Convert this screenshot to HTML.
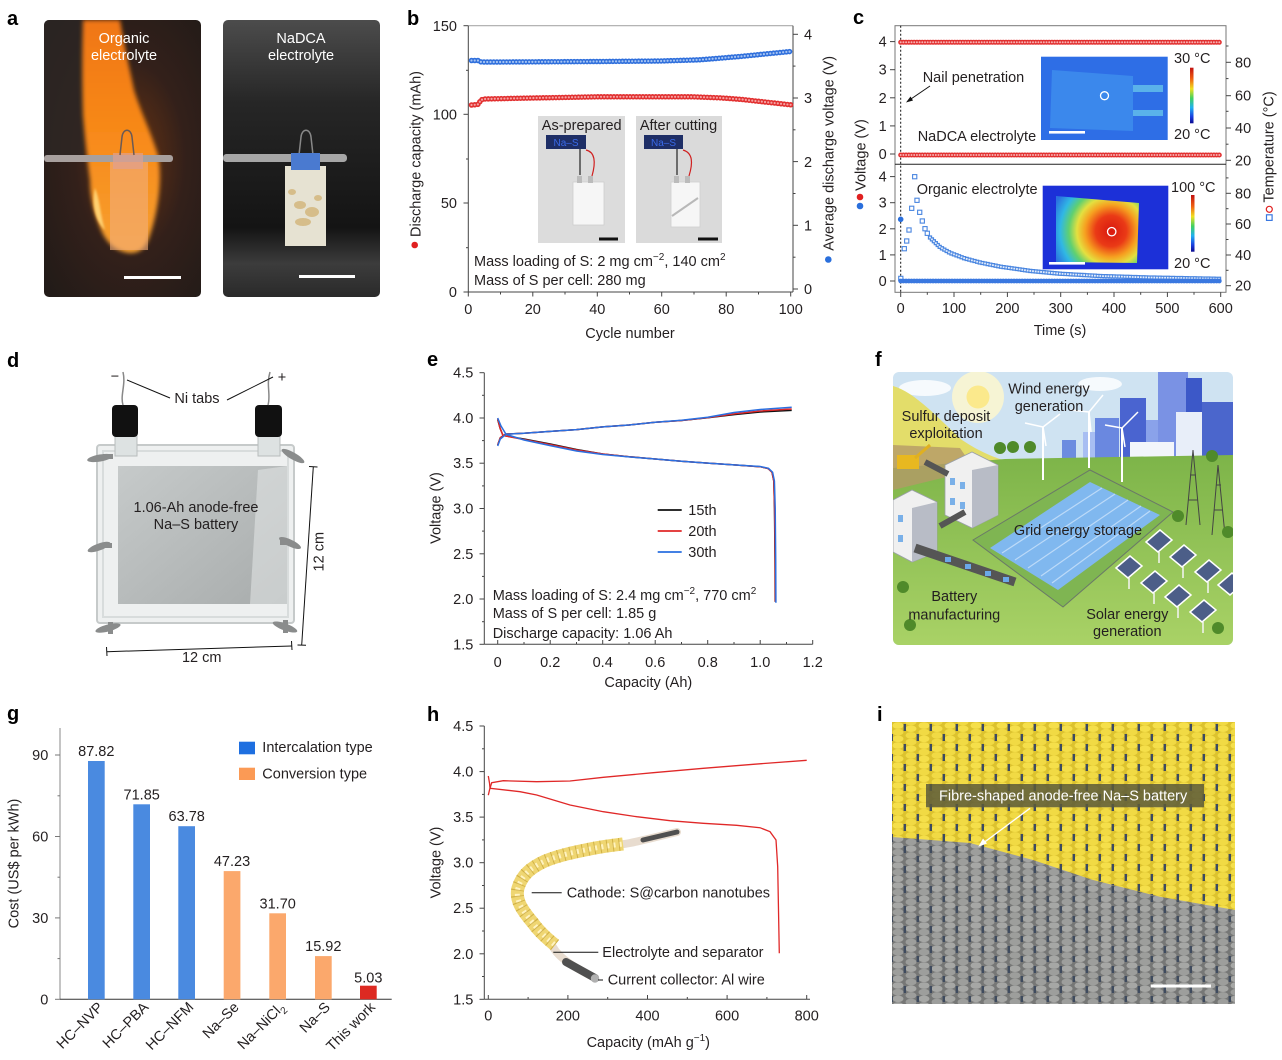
<!DOCTYPE html>
<html><head><meta charset="utf-8">
<style>
html,body{margin:0;padding:0;background:#fff;}
svg{display:block;font-family:"Liberation Sans",Arial,sans-serif;}
text{fill:#231f20;font-size:14.5px;}
.lbl{font-size:20px;font-weight:bold;fill:#000;}
.ax{stroke:#444;stroke-width:1;fill:none;}
.tk{stroke:#444;stroke-width:1;}
</style></head><body>
<svg width="1282" height="1060" viewBox="0 0 1282 1060" xmlns="http://www.w3.org/2000/svg">
<defs>
<radialGradient id="glowL" cx="0.55" cy="0.5" r="0.7">
 <stop offset="0" stop-color="#6a3412"/><stop offset="0.5" stop-color="#33201a"/><stop offset="1" stop-color="#221b18"/>
</radialGradient>
<linearGradient id="flameG" x1="0" y1="0" x2="0" y2="1">
 <stop offset="0" stop-color="#f07612"/><stop offset="0.5" stop-color="#f88a1a"/><stop offset="1" stop-color="#f7a030"/>
</linearGradient>
<linearGradient id="bgR" x1="0" y1="0" x2="0" y2="1">
 <stop offset="0" stop-color="#4c4c4c"/><stop offset="0.3" stop-color="#262626"/><stop offset="0.75" stop-color="#141414"/><stop offset="0.88" stop-color="#3c3c3c"/><stop offset="1" stop-color="#2a2a2a"/>
</linearGradient>
<filter id="blur2"><feGaussianBlur stdDeviation="2"/></filter>
<filter id="blur1"><feGaussianBlur stdDeviation="1"/></filter>
<linearGradient id="cbar" x1="0" y1="0" x2="0" y2="1">
 <stop offset="0" stop-color="#c01010"/><stop offset="0.2" stop-color="#f06010"/><stop offset="0.38" stop-color="#f0e020"/><stop offset="0.55" stop-color="#40d060"/><stop offset="0.72" stop-color="#20b0f0"/><stop offset="0.88" stop-color="#1a40e0"/><stop offset="1" stop-color="#0a0a90"/>
</linearGradient>
<radialGradient id="hot" gradientUnits="userSpaceOnUse" cx="1111" cy="231" r="62">
 <stop offset="0" stop-color="#d81810"/><stop offset="0.25" stop-color="#ea3a16"/><stop offset="0.42" stop-color="#f6a020"/><stop offset="0.55" stop-color="#e4e040"/><stop offset="0.68" stop-color="#60d070"/><stop offset="0.82" stop-color="#30b8e4"/><stop offset="1" stop-color="#2a70e0"/>
</radialGradient>
<linearGradient id="sheetG" x1="0" y1="0" x2="1" y2="1">
 <stop offset="0" stop-color="#c6caca"/><stop offset="1" stop-color="#a8acac"/>
</linearGradient>
<linearGradient id="grnG" x1="0" y1="0" x2="0" y2="1">
 <stop offset="0" stop-color="#7db449"/><stop offset="1" stop-color="#a9d266"/>
</linearGradient>
<pattern id="knitY" x="892" y="722" width="26" height="20" patternUnits="userSpaceOnUse">
 <rect width="26" height="20" fill="#dcc22e"/>
 <ellipse cx="6" cy="3.5" rx="5.5" ry="3.3" fill="#f5df4a"/>
 <ellipse cx="6" cy="10.2" rx="5.5" ry="3.3" fill="#f1da44"/>
 <ellipse cx="6" cy="16.8" rx="5.5" ry="3.3" fill="#f5df4a"/>
 <ellipse cx="19" cy="0" rx="5.5" ry="3.3" fill="#f1da44"/>
 <ellipse cx="19" cy="6.7" rx="5.5" ry="3.3" fill="#f5df4a"/>
 <ellipse cx="19" cy="13.4" rx="5.5" ry="3.3" fill="#f1da44"/>
 <ellipse cx="19" cy="20" rx="5.5" ry="3.3" fill="#f1da44"/>
 <rect x="11.6" y="2" width="2.4" height="7" fill="#3c4a62"/>
 <rect x="24.6" y="12" width="2.4" height="7" fill="#3c4a62"/>
 <rect x="-1.4" y="12" width="2.4" height="7" fill="#3c4a62"/>
</pattern>
<pattern id="knitG" x="892" y="722" width="26" height="20" patternUnits="userSpaceOnUse">
 <rect width="26" height="20" fill="#767776"/>
 <ellipse cx="6" cy="3.5" rx="5.5" ry="3.3" fill="#a6a7a5"/>
 <ellipse cx="6" cy="10.2" rx="5.5" ry="3.3" fill="#9d9e9c"/>
 <ellipse cx="6" cy="16.8" rx="5.5" ry="3.3" fill="#a6a7a5"/>
 <ellipse cx="19" cy="0" rx="5.5" ry="3.3" fill="#9d9e9c"/>
 <ellipse cx="19" cy="6.7" rx="5.5" ry="3.3" fill="#a6a7a5"/>
 <ellipse cx="19" cy="13.4" rx="5.5" ry="3.3" fill="#9d9e9c"/>
 <ellipse cx="19" cy="20" rx="5.5" ry="3.3" fill="#9d9e9c"/>
 <rect x="11.6" y="4" width="2.4" height="7" fill="#3f4b5e"/>
 <rect x="24.6" y="14" width="2.4" height="6" fill="#3f4b5e"/>
 <rect x="-1.4" y="14" width="2.4" height="6" fill="#3f4b5e"/>
</pattern>
<clipPath id="clipF"><rect x="893" y="372" width="340" height="273" rx="6"/></clipPath>
<clipPath id="clipI"><rect x="892" y="722" width="343" height="282"/></clipPath>
<clipPath id="clipA1"><rect x="44" y="20" width="157" height="277" rx="5"/></clipPath>
</defs>

<!-- ================= a ================= -->
<text class="lbl" x="7" y="25">a</text>
<g clip-path="url(#clipA1)">
 <rect x="44" y="20" width="157" height="277" fill="url(#glowL)"/>
 <rect x="44" y="20" width="40" height="140" fill="#2e2826" opacity="0.7"/>
 <path d="M83 20 L120 20 C124 45 130 70 134 90 C140 110 150 130 158 155 C163 180 157 215 150 235 C146 248 140 253 130 253 C118 252 108 245 102 232 C95 215 90 200 90 180 C88 165 85 140 83 115 C82 85 82 50 83 20 Z" fill="url(#flameG)" filter="url(#blur2)"/>
 <path d="M95 188 C91 205 96 222 105 230 C100 214 100 200 95 188 Z" fill="#ffd070" filter="url(#blur1)"/>
 <rect x="110" y="162" width="38" height="88" fill="#f2ad7a" opacity="0.6"/>
 <rect x="44" y="155" width="129" height="7" rx="3" fill="#a8a09e"/>
 <rect x="113" y="153" width="30" height="16" fill="#e0a090" opacity="0.7"/>
 <path d="M120 155 L122 137 C123 128 131 128 132 137 L134 155" stroke="#6a5a56" stroke-width="1.5" fill="none"/>
 <rect x="124" y="276" width="57" height="3" fill="#fff"/>
</g>
<text x="124" y="43" text-anchor="middle" style="fill:#fff">Organic</text>
<text x="124" y="60" text-anchor="middle" style="fill:#fff">electrolyte</text>

<rect x="223" y="20" width="157" height="277" rx="5" fill="url(#bgR)"/>
<rect x="223" y="154" width="124" height="8" rx="3.5" fill="#a6a6a6"/>
<path d="M299 155 L301 137 C302 128 310 128 311 137 L313 155" stroke="#888" stroke-width="1.5" fill="none"/>
<rect x="285" y="166" width="41" height="80" fill="#e6e2d2"/>
<g fill="#c9a050" opacity="0.55">
 <ellipse cx="300" cy="205" rx="6" ry="4"/><ellipse cx="312" cy="212" rx="7" ry="5"/><ellipse cx="303" cy="222" rx="8" ry="4"/><ellipse cx="292" cy="192" rx="4" ry="3"/><ellipse cx="318" cy="198" rx="4" ry="3"/>
</g>
<rect x="291" y="153" width="29" height="17" fill="#4a7ad0"/>
<rect x="299" y="275" width="56" height="3" fill="#fff"/>
<text x="301" y="43" text-anchor="middle" style="fill:#fff">NaDCA</text>
<text x="301" y="60" text-anchor="middle" style="fill:#fff">electrolyte</text>

<!-- ================= b ================= -->
<text class="lbl" x="407" y="25">b</text>
<line x1="468.3" y1="25.7" x2="793" y2="25.7" stroke="#aaa" stroke-width="1.2"/>
<line class="ax" x1="468.3" y1="25.7" x2="468.3" y2="292"/>
<line class="ax" x1="793" y1="25.7" x2="793" y2="292"/>
<line class="ax" x1="468.3" y1="292" x2="793" y2="292"/>
<g class="tk">
 <line x1="463.5" y1="25.7" x2="468.3" y2="25.7"/><line x1="463.5" y1="114.3" x2="468.3" y2="114.3"/><line x1="463.5" y1="203" x2="468.3" y2="203"/><line x1="463.5" y1="292" x2="468.3" y2="292"/>
 <line x1="466" y1="70.3" x2="468.3" y2="70.3"/><line x1="466" y1="159" x2="468.3" y2="159"/><line x1="466" y1="247.7" x2="468.3" y2="247.7"/>
 <line x1="793" y1="34.3" x2="798" y2="34.3"/><line x1="793" y1="98" x2="798" y2="98"/><line x1="793" y1="161.6" x2="798" y2="161.6"/><line x1="793" y1="225.3" x2="798" y2="225.3"/><line x1="793" y1="289" x2="798" y2="289"/>
 <line x1="793" y1="66.1" x2="795.5" y2="66.1"/><line x1="793" y1="129.8" x2="795.5" y2="129.8"/><line x1="793" y1="193.5" x2="795.5" y2="193.5"/><line x1="793" y1="257.2" x2="795.5" y2="257.2"/>
 <line x1="468.3" y1="292" x2="468.3" y2="296.5"/><line x1="532.8" y1="292" x2="532.8" y2="296.5"/><line x1="597.3" y1="292" x2="597.3" y2="296.5"/><line x1="661.7" y1="292" x2="661.7" y2="296.5"/><line x1="726.2" y1="292" x2="726.2" y2="296.5"/><line x1="790.7" y1="292" x2="790.7" y2="296.5"/>
 <line x1="500.5" y1="292" x2="500.5" y2="294.5"/><line x1="565" y1="292" x2="565" y2="294.5"/><line x1="629.5" y1="292" x2="629.5" y2="294.5"/><line x1="694" y1="292" x2="694" y2="294.5"/><line x1="758.5" y1="292" x2="758.5" y2="294.5"/>
</g>
<g text-anchor="end"><text x="457" y="31">150</text><text x="457" y="119.5">100</text><text x="457" y="208">50</text><text x="457" y="297">0</text></g>
<g><text x="804" y="39.5">4</text><text x="804" y="103">3</text><text x="804" y="167">2</text><text x="804" y="230.5">1</text><text x="804" y="294">0</text></g>
<g text-anchor="middle"><text x="468.3" y="314">0</text><text x="532.8" y="314">20</text><text x="597.3" y="314">40</text><text x="661.7" y="314">60</text><text x="726.2" y="314">80</text><text x="790.7" y="314">100</text></g>
<text x="630" y="338" text-anchor="middle">Cycle number</text>
<text transform="translate(420.4,154) rotate(-90)" text-anchor="middle">Discharge capacity (mAh)</text>
<circle cx="414.7" cy="245" r="3.3" fill="#e02020"/>
<text transform="translate(833.7,153.3) rotate(-90)" text-anchor="middle">Average discharge voltage (V)</text>
<circle cx="828.3" cy="259.5" r="3.3" fill="#2a6fdc"/>
<path d="M471.5 105 L474.7 104.8 L478 104.3 L481.2 99.8 L484.4 99 L516.7 98.3 L597.3 96.8 L694 96.8 L719.8 97.8 L742.3 99.5 L765 102 L790.7 104.8" fill="none" stroke="#e23030" stroke-width="5.5" stroke-linecap="round" stroke-dasharray="0 3.22"/>
<path d="M471.5 105 L474.7 104.8 L478 104.3 L481.2 99.8 L484.4 99 L516.7 98.3 L597.3 96.8 L694 96.8 L719.8 97.8 L742.3 99.5 L765 102 L790.7 104.8" fill="none" stroke="#f4a4a4" stroke-width="2.2" stroke-linecap="round" stroke-dasharray="0 3.22"/>
<path d="M471.5 60.5 L478 60.5 L481.2 62 L500 62 L600 61.5 L660 61 L700 59.8 L740 56.5 L765 54 L790.7 51.5" fill="none" stroke="#2f6fdc" stroke-width="5.5" stroke-linecap="round" stroke-dasharray="0 3.22"/>
<path d="M471.5 60.5 L478 60.5 L481.2 62 L500 62 L600 61.5 L660 61 L700 59.8 L740 56.5 L765 54 L790.7 51.5" fill="none" stroke="#a6c4f2" stroke-width="2.2" stroke-linecap="round" stroke-dasharray="0 3.22"/>
<rect x="538" y="116" width="87" height="127" fill="#dcdcdc"/>
<rect x="636" y="116" width="86" height="127" fill="#dadada"/>
<text x="581.7" y="130" text-anchor="middle">As-prepared</text>
<text x="678.5" y="130" text-anchor="middle">After cutting</text>
<rect x="546" y="135" width="40" height="14" fill="#1e2e66"/>
<text x="566" y="146" text-anchor="middle" style="font-size:10px;fill:#3a6ae8">Na–S</text>
<rect x="644" y="135" width="39" height="14" fill="#1e2e66"/>
<text x="663.5" y="146" text-anchor="middle" style="font-size:10px;fill:#3a6ae8">Na–S</text>
<path d="M580 149 L580 175" stroke="#222" stroke-width="1.2" fill="none"/>
<path d="M586 150 C595 152 596 162 592 176" stroke="#d02020" stroke-width="1.2" fill="none"/>
<path d="M677 149 L677 175" stroke="#222" stroke-width="1.2" fill="none"/>
<path d="M683 150 C693 153 693 163 689 176" stroke="#d02020" stroke-width="1.2" fill="none"/>
<rect x="573" y="182" width="31" height="43" fill="#f6f6f6" stroke="#cfcfcf" stroke-width="0.8"/>
<rect x="577" y="176" width="5" height="7" fill="#bbb"/><rect x="588" y="176" width="5" height="7" fill="#bbb"/>
<rect x="671" y="182" width="29" height="45" fill="#f6f6f6" stroke="#cfcfcf" stroke-width="0.8"/>
<rect x="674" y="176" width="5" height="7" fill="#bbb"/><rect x="685" y="176" width="5" height="7" fill="#bbb"/>
<line x1="672" y1="216" x2="698" y2="198" stroke="#b8b8b8" stroke-width="2"/>
<rect x="599" y="237.5" width="19" height="3" fill="#111"/>
<rect x="698" y="237.5" width="20" height="3" fill="#111"/>
<text x="474" y="266">Mass loading of S: 2 mg cm<tspan dy="-6" style="font-size:10px">−2</tspan><tspan dy="6">, 140 cm</tspan><tspan dy="-6" style="font-size:10px">2</tspan></text>
<text x="474" y="285">Mass of S per cell: 280 mg</text>

<!-- ================= c ================= -->
<text class="lbl" x="853" y="24">c</text>
<rect x="895" y="25.7" width="331" height="266.6" fill="none" stroke="#777" stroke-width="1"/>
<line x1="895" y1="164.3" x2="1226" y2="164.3" stroke="#222" stroke-width="1"/>
<line x1="900.7" y1="25.7" x2="900.7" y2="292.3" stroke="#111" stroke-width="1" stroke-dasharray="2 2"/>
<g class="tk">
 <line x1="890" y1="41.6" x2="895" y2="41.6"/><line x1="890" y1="69.7" x2="895" y2="69.7"/><line x1="890" y1="97.8" x2="895" y2="97.8"/><line x1="890" y1="125.9" x2="895" y2="125.9"/><line x1="890" y1="154" x2="895" y2="154"/>
 <line x1="890" y1="176.6" x2="895" y2="176.6"/><line x1="890" y1="202.7" x2="895" y2="202.7"/><line x1="890" y1="228.8" x2="895" y2="228.8"/><line x1="890" y1="254.9" x2="895" y2="254.9"/><line x1="890" y1="281" x2="895" y2="281"/>
 <line x1="1226" y1="62.3" x2="1231" y2="62.3"/><line x1="1226" y1="95.7" x2="1231" y2="95.7"/><line x1="1226" y1="128" x2="1231" y2="128"/><line x1="1226" y1="160.3" x2="1231" y2="160.3"/>
 <line x1="1226" y1="46" x2="1228.5" y2="46"/><line x1="1226" y1="78.6" x2="1228.5" y2="78.6"/><line x1="1226" y1="111.3" x2="1228.5" y2="111.3"/><line x1="1226" y1="144.2" x2="1228.5" y2="144.2"/>
 <line x1="1226" y1="193.3" x2="1231" y2="193.3"/><line x1="1226" y1="224" x2="1231" y2="224"/><line x1="1226" y1="255" x2="1231" y2="255"/><line x1="1226" y1="285.7" x2="1231" y2="285.7"/>
 <line x1="1226" y1="177.9" x2="1228.5" y2="177.9"/><line x1="1226" y1="208.7" x2="1228.5" y2="208.7"/><line x1="1226" y1="239.5" x2="1228.5" y2="239.5"/><line x1="1226" y1="270.3" x2="1228.5" y2="270.3"/>
 <line x1="900.7" y1="292.3" x2="900.7" y2="297"/><line x1="954" y1="292.3" x2="954" y2="297"/><line x1="1007.4" y1="292.3" x2="1007.4" y2="297"/><line x1="1060.7" y1="292.3" x2="1060.7" y2="297"/><line x1="1114" y1="292.3" x2="1114" y2="297"/><line x1="1167.4" y1="292.3" x2="1167.4" y2="297"/><line x1="1220.7" y1="292.3" x2="1220.7" y2="297"/>
 <line x1="927.3" y1="292.3" x2="927.3" y2="294.8"/><line x1="980.7" y1="292.3" x2="980.7" y2="294.8"/><line x1="1034" y1="292.3" x2="1034" y2="294.8"/><line x1="1087.4" y1="292.3" x2="1087.4" y2="294.8"/><line x1="1140.7" y1="292.3" x2="1140.7" y2="294.8"/><line x1="1194" y1="292.3" x2="1194" y2="294.8"/>
</g>
<g text-anchor="end"><text x="886.7" y="46.6">4</text><text x="886.7" y="74.7">3</text><text x="886.7" y="102.8">2</text><text x="886.7" y="130.9">1</text><text x="886.7" y="159">0</text>
<text x="886.7" y="181.6">4</text><text x="886.7" y="207.7">3</text><text x="886.7" y="233.8">2</text><text x="886.7" y="259.9">1</text><text x="886.7" y="286">0</text></g>
<g><text x="1235" y="67.3">80</text><text x="1235" y="100.7">60</text><text x="1235" y="133">40</text><text x="1235" y="165.3">20</text>
<text x="1235" y="198.3">80</text><text x="1235" y="229">60</text><text x="1235" y="260">40</text><text x="1235" y="290.7">20</text></g>
<g text-anchor="middle"><text x="900.7" y="313">0</text><text x="954" y="313">100</text><text x="1007.4" y="313">200</text><text x="1060.7" y="313">300</text><text x="1114" y="313">400</text><text x="1167.4" y="313">500</text><text x="1220.7" y="313">600</text></g>
<text x="1060" y="335" text-anchor="middle">Time (s)</text>
<text transform="translate(865.4,155) rotate(-90)" text-anchor="middle">Voltage (V)</text>
<circle cx="860" cy="197" r="3.3" fill="#e02020"/><circle cx="860" cy="206" r="3.3" fill="#2a6fdc"/>
<text transform="translate(1273.4,147) rotate(-90)" text-anchor="middle">Temperature (°C)</text>
<circle cx="1269.3" cy="209.3" r="3" fill="none" stroke="#e02020" stroke-width="1.2"/>
<rect x="1266.5" y="214.8" width="5.6" height="5.6" fill="none" stroke="#3a78e0" stroke-width="1.2"/>
<rect x="1041" y="56.7" width="126.7" height="83.3" fill="#2e6ee6"/>
<polygon points="1052,70 1133,76 1133,131 1050,128" fill="#3b88ec"/>
<rect x="1133" y="85" width="30" height="7" fill="#5ab2ea"/><rect x="1133" y="110" width="30" height="6" fill="#5ab2ea"/>
<circle cx="1104.5" cy="95.7" r="4" fill="none" stroke="#fff" stroke-width="1.3"/>
<rect x="1049" y="131" width="36" height="2.6" fill="#fff"/>
<rect x="1190" y="67.7" width="3.5" height="55.6" fill="url(#cbar)"/>
<text x="1174" y="63">30 °C</text><text x="1174" y="139">20 °C</text>
<rect x="1042.7" y="185.7" width="125.6" height="83.6" fill="#1c30d8"/>
<polygon points="1056,196 1139,203 1137,263 1056,262" fill="url(#hot)"/>
<circle cx="1111.7" cy="231.7" r="4.2" fill="none" stroke="#fff" stroke-width="1.3"/>
<rect x="1049" y="262" width="36" height="2.6" fill="#fff"/>
<rect x="1191" y="195" width="3.5" height="56.7" fill="url(#cbar)"/>
<text x="1171" y="192">100 °C</text><text x="1174" y="268">20 °C</text>
<path d="M900.7 42.3 L1220.7 42.3" stroke="#e23030" stroke-width="5" stroke-linecap="round" stroke-dasharray="0 2.7"/>
<path d="M900.7 42.3 L1220.7 42.3" stroke="#f6b0b0" stroke-width="2" stroke-linecap="round" stroke-dasharray="0 2.7"/>
<path d="M900.7 155 L1220.7 155" stroke="#e23030" stroke-width="5" stroke-linecap="round" stroke-dasharray="0 2.7"/>
<path d="M900.7 155 L1220.7 155" stroke="#f6b0b0" stroke-width="2" stroke-linecap="round" stroke-dasharray="0 2.7"/>
<path d="M930 237.5 L940 247.2 L950 252.9 L965 258.5 L980 262.5 L1000 266.6 L1030 270.9 L1060 273.7 L1100 276 L1150 277.5 L1220.7 278.8" fill="none" stroke="#4a86e0" stroke-width="4.3" stroke-linecap="square" stroke-dasharray="0 2.7"/>
<path d="M930 237.5 L940 247.2 L950 252.9 L965 258.5 L980 262.5 L1000 266.6 L1030 270.9 L1060 273.7 L1100 276 L1150 277.5 L1220.7 278.8" fill="none" stroke="#e2ecfb" stroke-width="1.8" stroke-linecap="square" stroke-dasharray="0 2.7"/>
<g fill="#fff" stroke="#4a86e0" stroke-width="1.1">
 <rect x="898.7" y="276.3" width="4.2" height="4.2"/><rect x="902.2" y="246.6" width="4.2" height="4.2"/><rect x="904.6" y="238.9" width="4.2" height="4.2"/><rect x="906.9" y="227.9" width="4.2" height="4.2"/><rect x="909.6" y="206.2" width="4.2" height="4.2"/><rect x="912.6" y="174.6" width="4.2" height="4.2"/><rect x="914.9" y="198.2" width="4.2" height="4.2"/><rect x="917.6" y="210.2" width="4.2" height="4.2"/><rect x="920.2" y="218.9" width="4.2" height="4.2"/><rect x="922.9" y="226.6" width="4.2" height="4.2"/><rect x="925.2" y="231.2" width="4.2" height="4.2"/>
</g>
<path d="M900.7 281 L1220.7 281" stroke="#3a78e0" stroke-width="4.8" stroke-linecap="round" stroke-dasharray="0 2.7"/>
<circle cx="900.7" cy="219.3" r="2.8" fill="#2a6fdc"/>
<text x="922.7" y="82">Nail penetration</text>
<line x1="930" y1="86" x2="908" y2="101" stroke="#111" stroke-width="1"/>
<polygon points="906,102.5 910.5,96.5 913,100.5" fill="#111"/>
<text x="917.7" y="141">NaDCA electrolyte</text>
<text x="916.7" y="194">Organic electrolyte</text>

<!-- ================= d ================= -->
<text class="lbl" x="7" y="367">d</text>
<rect x="97" y="445" width="197" height="178" rx="3" fill="#eef0f0" stroke="#c6caca" stroke-width="2"/>
<rect x="103" y="451" width="185" height="166" fill="none" stroke="#d8dcdc" stroke-width="2"/>
<rect x="118" y="466" width="169" height="138" fill="url(#sheetG)"/>
<polygon points="258,470 287,466 287,604 250,604" fill="#dfe2e2" opacity="0.6"/>
<rect x="115" y="434" width="22" height="22" fill="#dde2e2" stroke="#b8bcbc"/>
<rect x="258" y="434" width="22" height="22" fill="#dde2e2" stroke="#b8bcbc"/>
<rect x="112" y="405" width="26" height="32" rx="4" fill="#111"/>
<rect x="255" y="405" width="27" height="32" rx="4" fill="#111"/>
<path d="M123 405 C120 395 126 385 123 372" stroke="#888" stroke-width="1.5" fill="none"/>
<path d="M268 405 C271 395 266 385 270 372" stroke="#888" stroke-width="1.5" fill="none"/>
<g fill="#8a8c8c">
 <ellipse cx="100" cy="458" rx="13" ry="3.5" transform="rotate(-10 100 458)"/><rect x="103" y="454" width="10" height="5"/>
 <ellipse cx="293" cy="456" rx="13" ry="3.5" transform="rotate(30 293 456)"/>
 <ellipse cx="99" cy="547" rx="12" ry="3.5" transform="rotate(-20 99 547)"/><rect x="100" y="543" width="12" height="5"/>
 <ellipse cx="290" cy="543" rx="12" ry="3.5" transform="rotate(25 290 543)"/><rect x="280" y="540" width="10" height="5"/>
 <ellipse cx="108" cy="628" rx="13" ry="3.5" transform="rotate(-15 108 628)"/><rect x="108" y="622" width="5" height="12"/>
 <ellipse cx="285" cy="627" rx="13" ry="3.5" transform="rotate(20 285 627)"/><rect x="283" y="620" width="5" height="13"/>
</g>
<line x1="127" y1="380" x2="170" y2="398" stroke="#111" stroke-width="1"/>
<line x1="227" y1="400" x2="273" y2="377" stroke="#111" stroke-width="1"/>
<text x="115" y="381" text-anchor="middle">−</text><text x="282" y="382" text-anchor="middle">+</text>
<text x="197" y="403" text-anchor="middle">Ni tabs</text>
<text x="196" y="512" text-anchor="middle">1.06-Ah anode-free</text>
<text x="196" y="529" text-anchor="middle">Na–S battery</text>
<line x1="106.7" y1="651.7" x2="291.7" y2="646" stroke="#111" stroke-width="1"/>
<line x1="106.5" y1="647" x2="107" y2="656" stroke="#111"/><line x1="291.5" y1="641" x2="292" y2="650" stroke="#111"/>
<line x1="313.3" y1="466.7" x2="301.7" y2="645" stroke="#111" stroke-width="1"/>
<line x1="309" y1="466.5" x2="317.5" y2="467" stroke="#111"/><line x1="297.5" y1="645" x2="306" y2="645.3" stroke="#111"/>
<text x="201.7" y="662" text-anchor="middle">12 cm</text>
<text transform="translate(323.4,551.7) rotate(-90)" text-anchor="middle">12 cm</text>

<!-- ================= e ================= -->
<text class="lbl" x="427" y="366">e</text>
<line class="ax" x1="484.3" y1="372.7" x2="484.3" y2="644.3"/>
<line class="ax" x1="484.3" y1="644.3" x2="812.7" y2="644.3"/>
<g class="tk">
 <line x1="479.5" y1="372.7" x2="484.3" y2="372.7"/><line x1="479.5" y1="418" x2="484.3" y2="418"/><line x1="479.5" y1="463.2" x2="484.3" y2="463.2"/><line x1="479.5" y1="508.5" x2="484.3" y2="508.5"/><line x1="479.5" y1="553.8" x2="484.3" y2="553.8"/><line x1="479.5" y1="599" x2="484.3" y2="599"/><line x1="479.5" y1="644.3" x2="484.3" y2="644.3"/>
 <line x1="482" y1="395.3" x2="484.3" y2="395.3"/><line x1="482" y1="440.6" x2="484.3" y2="440.6"/><line x1="482" y1="485.9" x2="484.3" y2="485.9"/><line x1="482" y1="531.1" x2="484.3" y2="531.1"/><line x1="482" y1="576.4" x2="484.3" y2="576.4"/><line x1="482" y1="621.7" x2="484.3" y2="621.7"/>
 <line x1="497.7" y1="644.3" x2="497.7" y2="640"/><line x1="550.2" y1="644.3" x2="550.2" y2="640"/><line x1="602.7" y1="644.3" x2="602.7" y2="640"/><line x1="655.2" y1="644.3" x2="655.2" y2="640"/><line x1="707.7" y1="644.3" x2="707.7" y2="640"/><line x1="760.2" y1="644.3" x2="760.2" y2="640"/><line x1="812.7" y1="644.3" x2="812.7" y2="640"/>
 <line x1="524" y1="644.3" x2="524" y2="642"/><line x1="576.5" y1="644.3" x2="576.5" y2="642"/><line x1="629" y1="644.3" x2="629" y2="642"/><line x1="681.5" y1="644.3" x2="681.5" y2="642"/><line x1="734" y1="644.3" x2="734" y2="642"/><line x1="786.5" y1="644.3" x2="786.5" y2="642"/>
</g>
<g text-anchor="end"><text x="473.3" y="377.7">4.5</text><text x="473.3" y="423">4.0</text><text x="473.3" y="468.2">3.5</text><text x="473.3" y="513.5">3.0</text><text x="473.3" y="558.8">2.5</text><text x="473.3" y="604">2.0</text><text x="473.3" y="649.3">1.5</text></g>
<g text-anchor="middle"><text x="497.7" y="667">0</text><text x="550.2" y="667">0.2</text><text x="602.7" y="667">0.4</text><text x="655.2" y="667">0.6</text><text x="707.7" y="667">0.8</text><text x="760.2" y="667">1.0</text><text x="812.7" y="667">1.2</text></g>
<text x="648.3" y="687" text-anchor="middle">Capacity (Ah)</text>
<text transform="translate(440.4,508) rotate(-90)" text-anchor="middle">Voltage (V)</text>
<g fill="none" stroke-width="1.5">
<path stroke="#111" d="M497.7 445 L500.3 437.7 L505.6 434.1 L524 433.2 L550.2 431.4 L576.5 429.6 L602.7 426.9 L629 425 L655.2 422.3 L681.5 420.5 L707.7 417.8 L734 414.6 L760.2 412 L791.7 410.4"/>
<path stroke="#111" d="M497.7 419.5 L500 428 L503 435.5 L524 439 L550.2 444 L576.5 449.5 L602.7 454 L629 456.7 L655.2 459 L681.5 461.3 L707.7 463.1 L734 464.9 L760.2 466.7 L768.1 468.5 L772 472.2 L773.8 481 L774.5 508 L775 560 L775.2 601.7"/>
<path stroke="#e02828" d="M497.7 445 L500.3 437.7 L505.6 434.1 L524 433.2 L550.2 431.4 L576.5 429.6 L602.7 426.9 L629 425 L655.2 422.3 L681.5 420.5 L707.7 417.6 L734 413.9 L760.2 411 L791.7 409"/>
<path stroke="#e02828" d="M497.7 418.5 L500 428 L503 435.5 L524 439.5 L550.2 444.6 L576.5 450 L602.7 454 L629 456.7 L655.2 459 L681.5 461.3 L707.7 463.1 L734 464.9 L760.2 466.7 L768.1 468.5 L772 472.2 L773.8 481 L774.6 508 L775.2 560 L775.4 601.7"/>
<path stroke="#2a6fe0" d="M497.7 446 L500.3 439 L506 434.3 L524 433.2 L550.2 431.4 L576.5 429.6 L602.7 426.9 L629 425 L655.2 422.3 L681.5 420.3 L707.7 417.2 L734 412.5 L760.2 409.5 L791.7 407.3"/>
<path stroke="#2a6fe0" d="M497.7 418 L501 426 L506 434.3 L524 440 L550.2 445.6 L576.5 451 L602.7 454.5 L629 456.9 L655.2 459 L681.5 461.3 L707.7 463.1 L734 464.9 L760.2 466.5 L768.5 468.3 L772.6 472.2 L774.4 481 L775.2 508 L775.7 560 L775.9 602.7"/>
</g>
<line x1="657.7" y1="510" x2="681.7" y2="510" stroke="#111" stroke-width="1.8"/>
<line x1="657.7" y1="531" x2="681.7" y2="531" stroke="#e02828" stroke-width="1.8"/>
<line x1="657.7" y1="552" x2="681.7" y2="552" stroke="#2a6fe0" stroke-width="1.8"/>
<text x="688.3" y="515">15th</text><text x="688.3" y="536">20th</text><text x="688.3" y="557">30th</text>
<text x="492.7" y="600">Mass loading of S: 2.4 mg cm<tspan dy="-6" style="font-size:10px">−2</tspan><tspan dy="6">, 770 cm</tspan><tspan dy="-6" style="font-size:10px">2</tspan></text>
<text x="492.7" y="618">Mass of S per cell: 1.85 g</text>
<text x="492.7" y="638">Discharge capacity: 1.06 Ah</text>

<!-- ================= f ================= -->
<text class="lbl" x="875" y="366">f</text>
<g clip-path="url(#clipF)">
 <rect x="893" y="372" width="340" height="273" fill="#cfe3f2"/>
 <ellipse cx="925" cy="388" rx="26" ry="8" fill="#fff" opacity="0.8"/>
 <ellipse cx="1100" cy="384" rx="22" ry="7" fill="#fff" opacity="0.8"/>
 <circle cx="978" cy="397" r="26" fill="#fff8cc" opacity="0.8"/>
 <circle cx="978" cy="397" r="11.5" fill="#fbe98c"/>
 <path d="M893 386 C915 392 940 420 962 440 C980 452 995 458 1010 462 L893 475 Z" fill="#e3dd6a"/>
 <rect x="1062" y="440" width="14" height="22" fill="#6c8ce0"/>
 <rect x="1083" y="432" width="14" height="30" fill="#a8bef2"/>
 <rect x="1095" y="418" width="24" height="44" fill="#6a88e0"/>
 <rect x="1120" y="398" width="26" height="64" fill="#4a64d0"/>
 <rect x="1146" y="420" width="14" height="42" fill="#8aa2ea"/>
 <rect x="1158" y="372" width="30" height="90" fill="#7a92e4"/>
 <rect x="1186" y="378" width="16" height="84" fill="#3c58c8"/>
 <rect x="1176" y="412" width="26" height="50" fill="#e8eef9"/>
 <rect x="1202" y="402" width="31" height="60" fill="#4b66cc"/>
 <rect x="1130" y="442" width="44" height="20" fill="#f2f5fb"/>
 <path d="M893 468 L1005 459 L1233 455 L1233 645 L893 645 Z" fill="url(#grnG)"/>
 <path d="M893 445 L960 448 L975 470 L893 490 Z" fill="#b49a68" opacity="0.8"/>
 <rect x="897" y="455" width="22" height="14" fill="#e8b820"/>
 <line x1="915" y1="458" x2="930" y2="445" stroke="#e0b020" stroke-width="3"/>
 <polygon points="973,540 1090,470 1173,512 1063,607" fill="#7fb552" stroke="#6a7868" stroke-width="1"/>
 <polygon points="990,548 1090,482 1160,515 1058,590" fill="#80b8ef"/>
 <g stroke="#bcdaf8" stroke-width="1.2">
  <line x1="1002" y1="553" x2="1102" y2="488"/><line x1="1015" y1="560" x2="1115" y2="494"/><line x1="1028" y1="568" x2="1128" y2="500"/><line x1="1041" y1="576" x2="1141" y2="506"/><line x1="1052" y1="583" x2="1150" y2="511"/>
 </g>
 <g fill="#f0f0f0" stroke="#9aa0a8" stroke-width="0.8">
  <polygon points="945,465 972,452 998,465 998,515 972,528 945,515"/>
  <polygon points="893,500 912,490 937,502 937,552 912,562 893,552"/>
 </g>
 <polygon points="972,470 998,465 998,515 972,528" fill="#b8bcc6"/>
 <polygon points="912,508 937,502 937,552 912,562" fill="#b8bcc6"/>
 <g fill="#7ab0e8"><rect x="950" y="478" width="5" height="7"/><rect x="960" y="482" width="5" height="7"/><rect x="950" y="498" width="5" height="7"/><rect x="960" y="502" width="5" height="7"/><rect x="898" y="515" width="5" height="7"/><rect x="898" y="535" width="5" height="7"/></g>
 <line x1="915" y1="548" x2="1015" y2="582" stroke="#555" stroke-width="9"/>
 <line x1="940" y1="526" x2="965" y2="512" stroke="#555" stroke-width="6"/>
 <line x1="925" y1="462" x2="948" y2="474" stroke="#555" stroke-width="6"/>
 <g fill="#6aa8e8"><rect x="945" y="557" width="6" height="5"/><rect x="965" y="564" width="6" height="5"/><rect x="985" y="571" width="6" height="5"/><rect x="1003" y="577" width="6" height="5"/></g>
 <g stroke="#fff" stroke-width="2"><line x1="1043" y1="427" x2="1043" y2="480"/><line x1="1089" y1="412" x2="1089" y2="468"/><line x1="1122" y1="428" x2="1122" y2="482"/></g>
 <g stroke="#fff" stroke-width="1.5"><path d="M1043 427 L1060 414 M1043 427 L1025 423 M1043 427 L1046 446"/><path d="M1089 412 L1103 395 M1089 412 L1070 410 M1089 412 L1091 432"/><path d="M1122 428 L1138 412 M1122 428 L1105 425 M1122 428 L1125 447"/></g>
 <g stroke="#444" stroke-width="1" fill="none"><path d="M1186 525 L1193 450 L1200 525 M1188 500 L1198 500 M1190 475 L1196 475"/><path d="M1212 535 L1218 465 L1225 535 M1214 510 L1223 510 M1216 485 L1221 485"/></g>
 <g fill="#4f8a2a"><circle cx="1000" cy="448" r="6"/><circle cx="1013" cy="447" r="6"/><circle cx="1030" cy="447" r="6"/><circle cx="1178" cy="516" r="6"/><circle cx="1212" cy="456" r="6"/><circle cx="1228" cy="532" r="6"/><circle cx="903" cy="587" r="6"/><circle cx="910" cy="625" r="6"/><circle cx="1218" cy="628" r="6"/></g>
 <g fill="#4c5e88" stroke="#fff" stroke-width="1.5">
  <polygon points="1146,542 1160,530 1172,540 1158,552"/><polygon points="1170,557 1184,545 1196,555 1182,567"/><polygon points="1195,572 1209,560 1221,570 1207,582"/><polygon points="1218,585 1232,573 1244,583 1230,595"/>
  <polygon points="1116,568 1130,556 1142,566 1128,578"/><polygon points="1141,583 1155,571 1167,581 1153,593"/><polygon points="1165,597 1179,585 1191,595 1177,607"/><polygon points="1190,612 1204,600 1216,610 1202,622"/>
 </g>
 <g stroke="#f4f4f4" stroke-width="1.5"><line x1="1159" y1="552" x2="1159" y2="563"/><line x1="1183" y1="567" x2="1183" y2="578"/><line x1="1208" y1="582" x2="1208" y2="593"/><line x1="1129" y1="578" x2="1129" y2="589"/><line x1="1154" y1="593" x2="1154" y2="604"/><line x1="1178" y1="607" x2="1178" y2="618"/><line x1="1203" y1="622" x2="1203" y2="633"/></g>
</g>
<text x="1049" y="393.5" text-anchor="middle">Wind energy</text>
<text x="1049" y="411" text-anchor="middle">generation</text>
<text x="946" y="421" text-anchor="middle">Sulfur deposit</text>
<text x="946" y="438" text-anchor="middle">exploitation</text>
<text x="1078" y="535" text-anchor="middle">Grid energy storage</text>
<text x="954.3" y="601" text-anchor="middle">Battery</text>
<text x="954.3" y="619.3" text-anchor="middle">manufacturing</text>
<text x="1127.3" y="619" text-anchor="middle">Solar energy</text>
<text x="1127.3" y="636" text-anchor="middle">generation</text>

<!-- ================= g ================= -->
<text class="lbl" x="7" y="720">g</text>
<line x1="60" y1="728" x2="60" y2="999.3" stroke="#888" stroke-width="1"/>
<line x1="60" y1="999.3" x2="391.7" y2="999.3" stroke="#333" stroke-width="1"/>
<g class="tk" style="stroke:#777">
 <line x1="55" y1="755" x2="60" y2="755"/><line x1="55" y1="836.5" x2="60" y2="836.5"/><line x1="55" y1="917.9" x2="60" y2="917.9"/><line x1="55" y1="999.3" x2="60" y2="999.3"/>
 <line x1="57.5" y1="795.8" x2="60" y2="795.8"/><line x1="57.5" y1="877.2" x2="60" y2="877.2"/><line x1="57.5" y1="958.6" x2="60" y2="958.6"/>
</g>
<g text-anchor="end"><text x="48.3" y="760">90</text><text x="48.3" y="841.5">60</text><text x="48.3" y="923">30</text><text x="48.3" y="1004.3">0</text></g>
<text transform="translate(18.7,863.5) rotate(-90)" text-anchor="middle">Cost (US$ per kWh)</text>
<rect x="88" y="761" width="16.7" height="238.3" fill="#4a8ae0"/>
<rect x="133.3" y="804.3" width="16.7" height="195" fill="#4a8ae0"/>
<rect x="178.3" y="826.2" width="16.7" height="173.1" fill="#4a8ae0"/>
<rect x="223.7" y="871.1" width="16.7" height="128.2" fill="#fba86c"/>
<rect x="269.3" y="913.3" width="16.7" height="86" fill="#fba86c"/>
<rect x="315" y="956.1" width="16.7" height="43.2" fill="#fba86c"/>
<rect x="360" y="985.7" width="16.7" height="13.6" fill="#dd2a22"/>
<g text-anchor="middle"><text x="96.3" y="756">87.82</text><text x="141.7" y="799.3">71.85</text><text x="186.7" y="821.2">63.78</text><text x="232" y="866.1">47.23</text><text x="277.7" y="908.3">31.70</text><text x="323.3" y="951.1">15.92</text><text x="368.3" y="982.7">5.03</text></g>
<rect x="239" y="741.7" width="16" height="12.6" fill="#1e6fe0"/>
<rect x="239" y="767.7" width="16" height="12.3" fill="#fb9a55"/>
<text x="262.3" y="752">Intercalation type</text>
<text x="262.3" y="778.5">Conversion type</text>
<g text-anchor="end">
<text transform="translate(104,1008) rotate(-45)">HC–NVP</text>
<text transform="translate(149.4,1008) rotate(-45)">HC–PBA</text>
<text transform="translate(194.4,1008) rotate(-45)">HC–NFM</text>
<text transform="translate(239.7,1008) rotate(-45)">Na–Se</text>
<text transform="translate(285.4,1008) rotate(-45)">Na–NiCl<tspan dy="4" style="font-size:10px">2</tspan></text>
<text transform="translate(331,1008) rotate(-45)">Na–S</text>
<text transform="translate(376,1008) rotate(-45)">This work</text>
</g>

<!-- ================= h ================= -->
<text class="lbl" x="427" y="721">h</text>
<line class="ax" x1="484.3" y1="726" x2="484.3" y2="999.3"/>
<line class="ax" x1="484.3" y1="999.3" x2="810" y2="999.3"/>
<g class="tk">
 <line x1="479.5" y1="726" x2="484.3" y2="726"/><line x1="479.5" y1="771.6" x2="484.3" y2="771.6"/><line x1="479.5" y1="817.1" x2="484.3" y2="817.1"/><line x1="479.5" y1="862.7" x2="484.3" y2="862.7"/><line x1="479.5" y1="908.2" x2="484.3" y2="908.2"/><line x1="479.5" y1="953.8" x2="484.3" y2="953.8"/><line x1="479.5" y1="999.3" x2="484.3" y2="999.3"/>
 <line x1="482" y1="748.8" x2="484.3" y2="748.8"/><line x1="482" y1="794.4" x2="484.3" y2="794.4"/><line x1="482" y1="839.9" x2="484.3" y2="839.9"/><line x1="482" y1="885.5" x2="484.3" y2="885.5"/><line x1="482" y1="931" x2="484.3" y2="931"/><line x1="482" y1="976.5" x2="484.3" y2="976.5"/>
 <line x1="488.3" y1="999.3" x2="488.3" y2="995"/><line x1="567.9" y1="999.3" x2="567.9" y2="995"/><line x1="647.5" y1="999.3" x2="647.5" y2="995"/><line x1="727.1" y1="999.3" x2="727.1" y2="995"/><line x1="806.7" y1="999.3" x2="806.7" y2="995"/>
 <line x1="528.1" y1="999.3" x2="528.1" y2="997"/><line x1="607.7" y1="999.3" x2="607.7" y2="997"/><line x1="687.3" y1="999.3" x2="687.3" y2="997"/><line x1="766.9" y1="999.3" x2="766.9" y2="997"/>
</g>
<g text-anchor="end"><text x="473.3" y="731">4.5</text><text x="473.3" y="776.6">4.0</text><text x="473.3" y="822.1">3.5</text><text x="473.3" y="867.7">3.0</text><text x="473.3" y="913.2">2.5</text><text x="473.3" y="958.8">2.0</text><text x="473.3" y="1004.3">1.5</text></g>
<g text-anchor="middle"><text x="488.3" y="1020.5">0</text><text x="567.9" y="1020.5">200</text><text x="647.5" y="1020.5">400</text><text x="727.1" y="1020.5">600</text><text x="806.7" y="1020.5">800</text></g>
<text x="648.3" y="1047" text-anchor="middle">Capacity (mAh g<tspan dy="-6" style="font-size:10px">−1</tspan><tspan dy="6">)</tspan></text>
<text transform="translate(440.4,862.5) rotate(-90)" text-anchor="middle">Voltage (V)</text>
<g fill="none" stroke="#e02828" stroke-width="1.3">
 <path d="M488.3 795.2 L489.5 790 L491.7 782.7 L503.3 780.7 L536.7 781.7 L570 781 L603.3 777.3 L653.3 772.7 L703.3 768.3 L753.3 764.3 L806.7 760.3"/>
 <path d="M488.3 776 L489.5 783 L490 788.3 L520 791.7 L536.7 795 L570 805 L603.3 811.7 L636.7 816.7 L670 820.7 L703.3 823.3 L736.7 825.3 L760 827.7 L770 831.7 L776 840 L777.7 866.7 L779.3 953.3"/>
</g>
<!-- fibre illustration -->
<path d="M595 978 C580 970 560 960 553 947 C545 937 538 930 533 923 C522 910 515 900 518 888 C522 875 530 868 545 861 C560 855 575 852 590 849 C605 846 620 845 630 843 C645 840 660 836 677 832" fill="none" stroke="#e8dccf" stroke-width="8" stroke-linecap="round"/>
<path d="M595 978 L566 962" stroke="#505050" stroke-width="8" stroke-linecap="round"/>
<path d="M643 840 L677 832" stroke="#505050" stroke-width="5" stroke-linecap="round"/>
<circle cx="595" cy="978.5" r="4.2" fill="#b0b0b0"/>
<path d="M555 945 C545 937 538 930 533 923 C522 910 515 900 518 888 C522 875 530 868 545 861 C560 855 575 852 590 849 C605 846 615 845 623 844" fill="none" stroke="#efd672" stroke-width="13"/>
<path d="M555 945 C545 937 538 930 533 923 C522 910 515 900 518 888 C522 875 530 868 545 861 C560 855 575 852 590 849 C605 846 615 845 623 844" fill="none" stroke="#fff3c0" stroke-width="5" stroke-dasharray="3 3.2"/>
<path d="M555 945 C545 937 538 930 533 923 C522 910 515 900 518 888 C522 875 530 868 545 861 C560 855 575 852 590 849 C605 846 615 845 623 844" fill="none" stroke="#c9a83a" stroke-width="13" stroke-dasharray="1 5.2" opacity="0.8"/>
<line x1="531.7" y1="892.7" x2="561.7" y2="892.7" stroke="#111" stroke-width="1"/>
<line x1="553.3" y1="952.3" x2="598.3" y2="952.3" stroke="#111" stroke-width="1"/>
<line x1="598" y1="980" x2="603" y2="980" stroke="#111" stroke-width="1"/>
<text x="566.7" y="897.5">Cathode: S@carbon nanotubes</text>
<text x="602.3" y="957">Electrolyte and separator</text>
<text x="607.7" y="984.5">Current collector: Al wire</text>

<!-- ================= i ================= -->
<text class="lbl" x="877" y="721">i</text>
<g clip-path="url(#clipI)">
 <rect x="892" y="722" width="343" height="282" fill="url(#knitG)"/>
 <polygon points="892,722 1235,722 1235,910 1160,896.7 1093,880 1033,860 970,843 892,837" fill="url(#knitY)"/>
 <rect x="926" y="784" width="278" height="23.3" fill="#5c5a3a" opacity="0.85"/>
 <rect x="1150.7" y="984.5" width="60.3" height="3" fill="#fff"/>
</g>
<text x="939" y="800.5" style="fill:#fff">Fibre-shaped anode-free Na–S battery</text>
<line x1="1030" y1="808.3" x2="982" y2="844" stroke="#fff" stroke-width="1.3"/>
<polygon points="978.3,846.7 983,838.5 987,843.5" fill="#fff"/>
</svg>
</body></html>
